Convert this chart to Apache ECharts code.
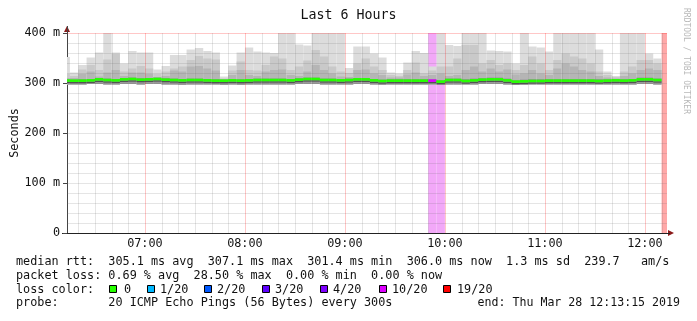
<!DOCTYPE html>
<html><head><meta charset="utf-8">
<script src="https://cdn.jsdelivr.net/npm/echarts@6/dist/echarts.min.js"></script>
<style>html,body{margin:0;padding:0;background:#fff}#c{width:697px;height:321px}</style>
</head><body><div id="c"></div>
<script>
const startTime = '06:13:15', endTime = '12:13:15';
const stepStarts = ['06:10','06:15','06:20','06:25','06:30','06:35','06:40','06:45','06:50','06:55',
 '07:00','07:05','07:10','07:15','07:20','07:25','07:30','07:35','07:40','07:45','07:50','07:55',
 '08:00','08:05','08:10','08:15','08:20','08:25','08:30','08:35','08:40','08:45','08:50','08:55',
 '09:00','09:05','09:10','09:15','09:20','09:25','09:30','09:35','09:40','09:45','09:50','09:55',
 '10:00','10:05','10:10','10:15','10:20','10:25','10:30','10:35','10:40','10:45','10:50','10:55',
 '11:00','11:05','11:10','11:15','11:20','11:25','11:30','11:35','11:40','11:45','11:50','11:55',
 '12:00','12:05','12:10'];
// ms values
const maxVals = [352,321,336,351,361,400,361,339,364,361,
 361,327,334,356,356,367,370,364,361,313,335,361,
 371,363,361,360,400,400,377,375,400,400,400,400,
 330,373,373,359,351,321,319,341,364,360,333,400,
 376,374,400,400,400,365,364,363,339,400,373,371,
 363,400,400,400,400,400,367,323,313,400,400,400,
 359,349,null];
const p2Vals = [318,314,327,336,326,347,358,323,329,334,
 329,318,323,329,333,346,354,349,347,309,325,343,
 326,325,336,353,349,326,333,345,366,353,333,323,
 320,339,349,333,326,316,314,326,341,319,325,333,
 333,349,376,376,339,346,336,339,326,336,353,339,
 326,346,359,353,349,339,323,316,313,323,333,346,
 346,339,null];
const p3Vals = [310,310,318,323,313,321,326,314,321,321,
 318,311,314,325,323,333,334,329,325,306,316,326,
 316,314,323,326,327,316,314,323,336,326,319,313,
 312,326,327,319,316,311,311,317,321,314,316,319,
 314,316,326,333,323,329,323,327,317,319,326,319,
 316,329,339,333,326,323,314,311,309,314,319,326,
 329,326,null];
const p4Vals = [308,307,308,308,310,309,308,310,311,310,
 310,311,310,309,308,309,309,308,308,307,308,308,
 308,309,309,309,309,308,310,311,311,309,309,308,
 309,310,310,308,307,308,308,308,308,308,308,306,
 309,309,308,309,310,311,311,309,306,307,308,308,
 308,308,308,308,308,308,308,308,308,308,308,311,
 311,309,null];
const medianVals = [305,304.7,304.7,305.3,307.3,306,305.3,307.3,308,306.7,
 307.3,308,306.7,306,305.3,306,306,305.3,304.7,304.7,305.3,304.7,
 305.3,306,306,306,306,305.3,306.7,308,308,306,306,305.3,
 306,307.3,307.3,305.3,304,304.7,304.7,304.7,304.7,304.7,304.7,302.7,
 306,306,304,305.3,306.7,307.3,307.3,305.3,302.7,303.3,304,304,
 304.7,304.7,304.7,304.7,304.7,304.7,304,304.7,305.3,304.7,305.3,307.3,
 307.3,306,null];
const minVals = [297,297,297,298,298,297,297,298,298,297,
 298,298,297,297,296,297,297,297,297,296,297,296,
 297,297,297,297,297,297,298,298,298,297,297,297,
 297,298,298,297,296,297,297,297,297,297,297,296,
 297,297,297,297,298,298,298,297,296,296,297,297,
 297,297,297,297,297,297,297,297,297,297,297,298,
 298,297,null];
// lost pings out of 20 (median colour)
const lossVals = [0,0,0,0,0,0,0,0,0,0, 0,0,0,0,0,0,0,0,0,0,0,0, 0,0,0,0,0,0,0,0,0,0,0,0,
 0,0,0,0,0,0,0,0,0,0,10,0, 0,0,0,0,0,0,0,0,0,0,0,0, 0,0,0,0,0,0,0,0,0,0,0,0, 0,0,19];
// loss background shading
const shadeVals = [0,0,0,0,0,0,0,0,0,0, 0,0,0,0,0,0,0,0,0,0,0,0, 0,0,0,0,0,0,0,0,0,0,0,0,
 0,0,0,0,0,0,0,0,0,0,10,10, 0,0,0,0,0,0,0,0,0,0,0,0, 0,0,0,0,0,0,0,0,0,0,0,0, 0,0,19];
const hourTicks = ['07:00','08:00','09:00','10:00','11:00','12:00'];
const yTicks = [0,100,200,300,400];
const lossLegendLabels = ['0','1/20','2/20','3/20','4/20','10/20','19/20'];
const lossLegendKeys = [0,1,2,3,4,10,19];
const lossColors = {0:'#26ff00',1:'#00b8ff',2:'#0059ff',3:'#5e00ff',4:'#7e00ff',10:'#dd00ff',19:'#ff0000'};
const lossShade = {10:'#f2a8f8',19:'#ffa8a8'};
const statsLine1 = 'median rtt:  305.1 ms avg  307.1 ms max  301.4 ms min  306.0 ms now  1.3 ms sd  239.7   am/s';
const statsLine2 = 'packet loss: 0.69 % avg  28.50 % max  0.00 % min  0.00 % now';
const probeLine = 'probe:       20 ICMP Echo Pings (56 Bytes) every 300s';
const endLine = 'end: Thu Mar 28 12:13:15 2019';
const STEP = 5;

function toMin(s){const p=s.split(':').map(Number);return p[0]*60+p[1]+(p[2]||0)/60;}
function fmt(v){const h=Math.floor(v/60), m=Math.round(v-h*60);return String(h).padStart(2,'0')+':'+String(m).padStart(2,'0');}
const xMin = toMin(startTime), xMax = toMin(endTime);
const MONO = '"DejaVu Sans Mono", monospace';

const chart = echarts.init(document.getElementById('c'), null, {renderer:'canvas'});

function stepX(api, i){
  const t0 = Math.max(toMin(stepStarts[i]), xMin), t1 = Math.min(toMin(stepStarts[i]) + STEP, xMax);
  return [api.coord([t0, 0])[0], api.coord([t1, 0])[0]];
}
function band(api, i, lo, hi, color){
  const xs = stepX(api, i);
  const yTop = api.coord([xMin, hi])[1], yBot = api.coord([xMin, lo])[1];
  return {type:'rect', shape:{x:xs[0], y:yTop, width:xs[1]-xs[0], height:yBot-yTop}, style:{fill:color}};
}

const stepData = stepStarts.map((s,i)=>[toMin(s), i]);

const option = {
  animation:false,
  backgroundColor:'#fff',
  grid:{left:67, top:33, width:600, height:200, containLabel:false, outerBoundsMode:'none'},
  xAxis:{type:'value', min:xMin, max:xMax,
    axisLine:{show:true, onZero:false, lineStyle:{color:'#222', width:1}},
    axisTick:{show:false}, splitLine:{show:false},
    axisLabel:{customValues: hourTicks.map(toMin), formatter:v=>fmt(v), margin:5,
      fontFamily:MONO, fontSize:11.8, color:'#111'}},
  yAxis:{type:'value', min:0, max:400, interval:100,
    axisLine:{show:true, lineStyle:{color:'#444', width:1}},
    axisTick:{show:true, length:4, lineStyle:{color:'#444'}},
    splitLine:{show:false},
    axisLabel:{formatter:v=>v===0?'0':v+' m', margin:7, fontFamily:MONO, fontSize:11.8, color:'#111'}},
  series:[
    { // loss background
      type:'custom', z:1, silent:true, data:stepData, encode:{x:0, y:1},
      renderItem:(params, api)=>{
        const i = api.value(1);
        const c = lossShade[shadeVals[i]];
        if(!c) return null;
        return band(api, i, 0, 400, c);
      }
    },
    { // smoke
      type:'custom', z:2, silent:true, data:stepData, encode:{x:0, y:1},
      renderItem:(params, api)=>{
        const i = api.value(1);
        if(maxVals[i]==null) return null;
        return {type:'group', children:[
          band(api, i, minVals[i], maxVals[i], '#dcdcdc'),
          band(api, i, minVals[i], p2Vals[i], '#c9c9c9'),
          band(api, i, minVals[i], p3Vals[i], '#b5b5b5'),
          band(api, i, minVals[i], p4Vals[i], '#999999')
        ]};
      }
    },
    { // grid on top
      type:'custom', z:3, silent:true, data:[[xMin, 0]], encode:{x:0, y:1},
      renderItem:(params, api)=>{
        const ch = [];
        const x0 = api.coord([xMin,0])[0], x1 = api.coord([xMax,0])[0];
        const yB = api.coord([xMin,0])[1], yT = api.coord([xMin,400])[1];
        for(let v=20; v<=400; v+=20){
          const y = Math.round(api.coord([xMin, v])[1]) + 0.5;
          const major = v===400;
          ch.push({type:'line', shape:{x1:x0, y1:y, x2:x1, y2:y},
            style:{stroke: major?'rgba(255,0,0,0.22)':'rgba(110,110,110,0.18)', lineWidth:1}});
        }
        for(let t=Math.ceil(xMin/10)*10; t<=xMax; t+=10){
          const x = Math.round(api.coord([t, 0])[0]) + 0.5;
          const major = (t % 60) === 0;
          ch.push({type:'line', shape:{x1:x, y1:yT, x2:x, y2:yB},
            style:{stroke: major?'rgba(255,0,0,0.22)':'rgba(110,110,110,0.18)', lineWidth:1}});
        }
        return {type:'group', children:ch};
      }
    },
    { // median line colored by loss
      type:'custom', z:4, silent:true, data:stepData, encode:{x:0, y:1},
      renderItem:(params, api)=>{
        const i = api.value(1);
        if(medianVals[i]==null) return null;
        const xs = stepX(api, i);
        const y = api.coord([xMin, medianVals[i]])[1];
        const col = lossColors[lossVals[i]] || '#26ff00';
        const ch = [
          {type:'line', shape:{x1:xs[0], y1:y+2, x2:xs[1], y2:y+2}, style:{stroke:'#505050', lineWidth:1.2}},
          {type:'line', shape:{x1:xs[0], y1:y, x2:xs[1], y2:y}, style:{stroke:col, lineWidth:2.6}}
        ];
        if(i>0 && medianVals[i-1]!=null){
          const yp = api.coord([xMin, medianVals[i-1]])[1];
          ch.push({type:'line', shape:{x1:xs[0], y1:yp, x2:xs[0], y2:y}, style:{stroke:col, lineWidth:1.5}});
        }
        return {type:'group', children:ch};
      }
    }
  ],
  graphic:{elements:[]}
};

const g = option.graphic.elements;
g.push({type:'text', left:'center', top:9, style:{text:'Last 6 Hours', font:'13.3px '+MONO, fill:'#111'}});
g.push({type:'text', x:686, y:8, rotation:-Math.PI/2, style:{text:'RRDTOOL / TOBI OETIKER', font:'8px '+MONO, fill:'#b8b8b8', textVerticalAlign:'middle'}});
g.push({type:'text', x:15, y:133, rotation:Math.PI/2, style:{text:'Seconds', font:'11.8px '+MONO, fill:'#111', textAlign:'center', textVerticalAlign:'middle'}});
// axis arrows
g.push({type:'polygon', shape:{points:[[64,32],[70,32],[67,26]]}, style:{fill:'#8b1a1a'}});
g.push({type:'polygon', shape:{points:[[668,230],[668,236],[674,233]]}, style:{fill:'#8b1a1a'}});
g.push({type:'line', shape:{x1:67.5, y1:26, x2:67.5, y2:33}, style:{stroke:'#444', lineWidth:1}});
g.push({type:'line', shape:{x1:62, y1:233.5, x2:670, y2:233.5}, style:{stroke:'#222', lineWidth:1}});
// legend text
g.push({type:'text', x:16, y:262, style:{text:statsLine1, font:'11.8px '+MONO, fill:'#111', textVerticalAlign:'middle'}});
g.push({type:'text', x:16, y:275.5, style:{text:statsLine2, font:'11.8px '+MONO, fill:'#111', textVerticalAlign:'middle'}});
g.push({type:'text', x:16, y:289.5, style:{text:'loss color:', font:'11.8px '+MONO, fill:'#111', textVerticalAlign:'middle'}});
const boxX = [109,147,204,262,320,379,443];
const txtX = [124,160,217,275,333,392,457];
lossLegendKeys.forEach((k,j)=>{
  g.push({type:'rect', shape:{x:boxX[j]+0.5, y:285.5, width:7, height:7}, style:{fill:lossColors[k], stroke:'#000', lineWidth:1}});
  g.push({type:'text', x:txtX[j], y:289.5, style:{text:lossLegendLabels[j], font:'11.8px '+MONO, fill:'#111', textVerticalAlign:'middle'}});
});
g.push({type:'text', x:16, y:303, style:{text:probeLine, font:'11.8px '+MONO, fill:'#111', textVerticalAlign:'middle'}});
g.push({type:'text', x:680, y:303, style:{text:endLine, font:'11.6px '+MONO, fill:'#111', textAlign:'right', textVerticalAlign:'middle'}});

chart.setOption(option);
</script></body></html>
